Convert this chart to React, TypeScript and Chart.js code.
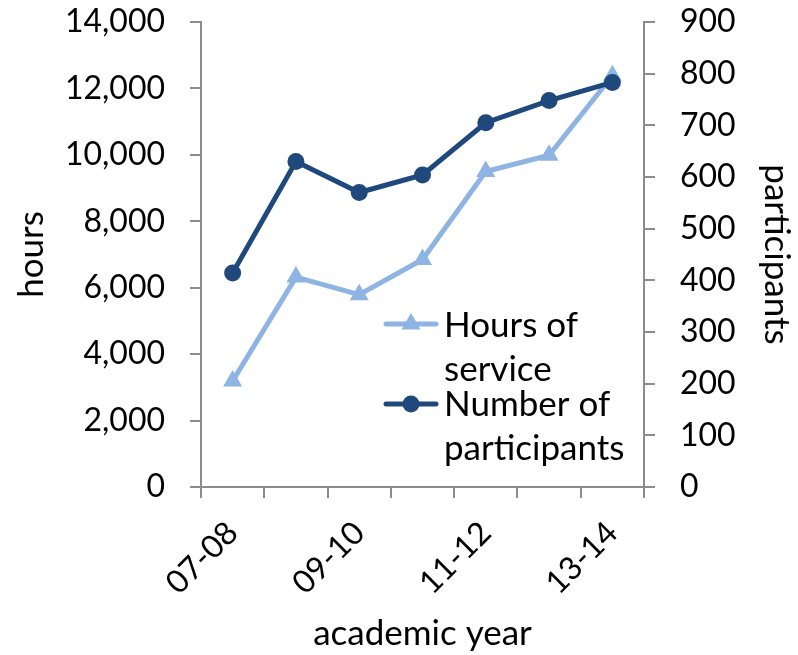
import React, { useEffect, useRef } from "react";
import { Chart, registerables } from "chart.js";

Chart.register(...registerables);

const categories = ["07-08", "08-09", "09-10", "10-11", "11-12", "12-13", "13-14"];
const hoursOfService = [3190, 6320, 5790, 6850, 9500, 9990, 12380];
const participants = [414, 630, 570, 604, 705, 748, 783];
const hoursTicks = [0, 2000, 4000, 6000, 8000, 10000, 12000, 14000];
const participantTicks = [0, 100, 200, 300, 400, 500, 600, 700, 800, 900];
const legendLabels = [["Hours of", "service"], ["Number of", "participants"]];

const LIGHT = "#8DB4E2";
const DARK = "#1F497D";
const AXIS = "#8C8C8C";
const FONT = "Lato";
const FS = 32;
const TITLE_FS = 35;
const LEGEND_FS = 35;

const legendPlugin = {
  id: "insideLegend",
  afterDraw(chart: any) {
    const ctx = chart.ctx;
    const items = [
      { color: LIGHT, style: "triangle", y: 324, lines: legendLabels[0], base: 337 },
      { color: DARK, style: "circle", y: 404, lines: legendLabels[1], base: 416 },
    ];
    ctx.save();
    for (const it of items) {
      ctx.strokeStyle = it.color;
      ctx.lineWidth = 5;
      ctx.lineCap = "round";
      ctx.beginPath();
      ctx.moveTo(386, it.y);
      ctx.lineTo(436, it.y);
      ctx.stroke();
      ctx.fillStyle = it.color;
      ctx.beginPath();
      if (it.style === "circle") {
        ctx.arc(411, it.y, 8.5, 0, Math.PI * 2);
      } else {
        const r = 11;
        ctx.moveTo(411, it.y - r);
        ctx.lineTo(411 + r * 0.866, it.y + r / 2);
        ctx.lineTo(411 - r * 0.866, it.y + r / 2);
        ctx.closePath();
      }
      ctx.fill();
      ctx.fillStyle = "#000";
      ctx.font = `${LEGEND_FS}px ${FONT}`;
      ctx.textAlign = "left";
      ctx.textBaseline = "alphabetic";
      it.lines.forEach((t: string, i: number) => {
        ctx.fillText(t, 444, it.base + i * 44);
      });
    }
    ctx.restore();
  },
};

export default function App() {
  const ref = useRef<HTMLCanvasElement>(null);
  useEffect(() => {
    let chart: Chart | null = null;
    let cancelled = false;
    const make = () => {
      if (cancelled || !ref.current) return;
      chart = new Chart(ref.current, {
        type: "line",
        data: {
          labels: categories,
          datasets: [
            {
              label: "Hours of service",
              data: hoursOfService,
              yAxisID: "y",
              borderColor: LIGHT,
              backgroundColor: LIGHT,
              borderWidth: 5,
              pointStyle: "triangle",
              pointRadius: 11,
              pointBorderWidth: 0,
              order: 2,
            },
            {
              label: "Number of participants",
              data: participants,
              yAxisID: "y1",
              borderColor: DARK,
              backgroundColor: DARK,
              borderWidth: 5,
              pointStyle: "circle",
              pointRadius: 8.5,
              pointBorderWidth: 0,
              order: 1,
            },
          ],
        },
        options: {
          animation: false,
          responsive: false,
          maintainAspectRatio: false,
          layout: { padding: { top: 22, left: 0, right: 0, bottom: 0 } },
          plugins: { legend: { display: false }, tooltip: { enabled: false } },
          elements: { line: { tension: 0 } },
          scales: {
            x: {
              offset: true,
              afterFit: (s: any) => { s.height = 168; s.paddingLeft = 0; s.paddingRight = 0; },
              grid: { offset: true, drawOnChartArea: false, tickLength: 11, color: AXIS, lineWidth: 2 },
              border: { color: AXIS, width: 2 },
              ticks: {
                autoSkip: false,
                maxRotation: 45,
                minRotation: 45,
                padding: 16,
                color: "#000",
                font: { family: FONT, size: FS },
                callback: (_v: any, i: number) => (i % 2 === 0 ? categories[i] : ""),
              },
              title: { display: true, text: "academic year", color: "#000", font: { family: FONT, size: TITLE_FS }, padding: { top: 0, bottom: 0 } },
            },
            y: {
              position: "left",
              min: 0,
              max: 14000,
              afterFit: (s: any) => { s.width = 201; s.paddingTop = 0; s.paddingBottom = 0; },
              afterBuildTicks: (s: any) => { s.ticks = hoursTicks.map((v) => ({ value: v })); },
              grid: { drawOnChartArea: false, tickLength: 11, color: AXIS, lineWidth: 2 },
              border: { color: AXIS, width: 2 },
              ticks: {
                padding: 25,
                color: "#000",
                font: { family: FONT, size: FS },
                callback: (v: any) => Number(v).toLocaleString("en-US"),
              },
              title: { display: true, text: "hours", color: "#000", font: { family: FONT, size: TITLE_FS }, padding: { top: 11, bottom: 0 } },
            },
            y1: {
              position: "right",
              min: 0,
              max: 900,
              afterFit: (s: any) => { s.width = 154; s.paddingTop = 0; s.paddingBottom = 0; },
              afterBuildTicks: (s: any) => { s.ticks = participantTicks.map((v) => ({ value: v })); },
              grid: { drawOnChartArea: false, tickLength: 11, color: AXIS, lineWidth: 2 },
              border: { color: AXIS, width: 2 },
              ticks: {
                padding: 25,
                color: "#000",
                font: { family: FONT, size: FS },
                callback: (v: any) => String(v),
              },
              title: { display: true, text: "participants", color: "#000", font: { family: FONT, size: TITLE_FS }, padding: { top: 1, bottom: 0 } },
            },
          },
        },
        plugins: [legendPlugin],
      } as any);
    };
    const fonts: any = (document as any).fonts;
    if (fonts && fonts.load) {
      fonts.load(`${FS}px ${FONT}`).then(make, make);
    } else make();
    return () => {
      cancelled = true;
      if (chart) chart.destroy();
    };
  }, []);
  return (
    <div style={{ position: "fixed", left: 0, top: 0, width: 798, height: 655, background: "#fff" }}>
      <canvas ref={ref} width={798} height={655} style={{ width: 798, height: 655, display: "block" }} />
    </div>
  );
}
